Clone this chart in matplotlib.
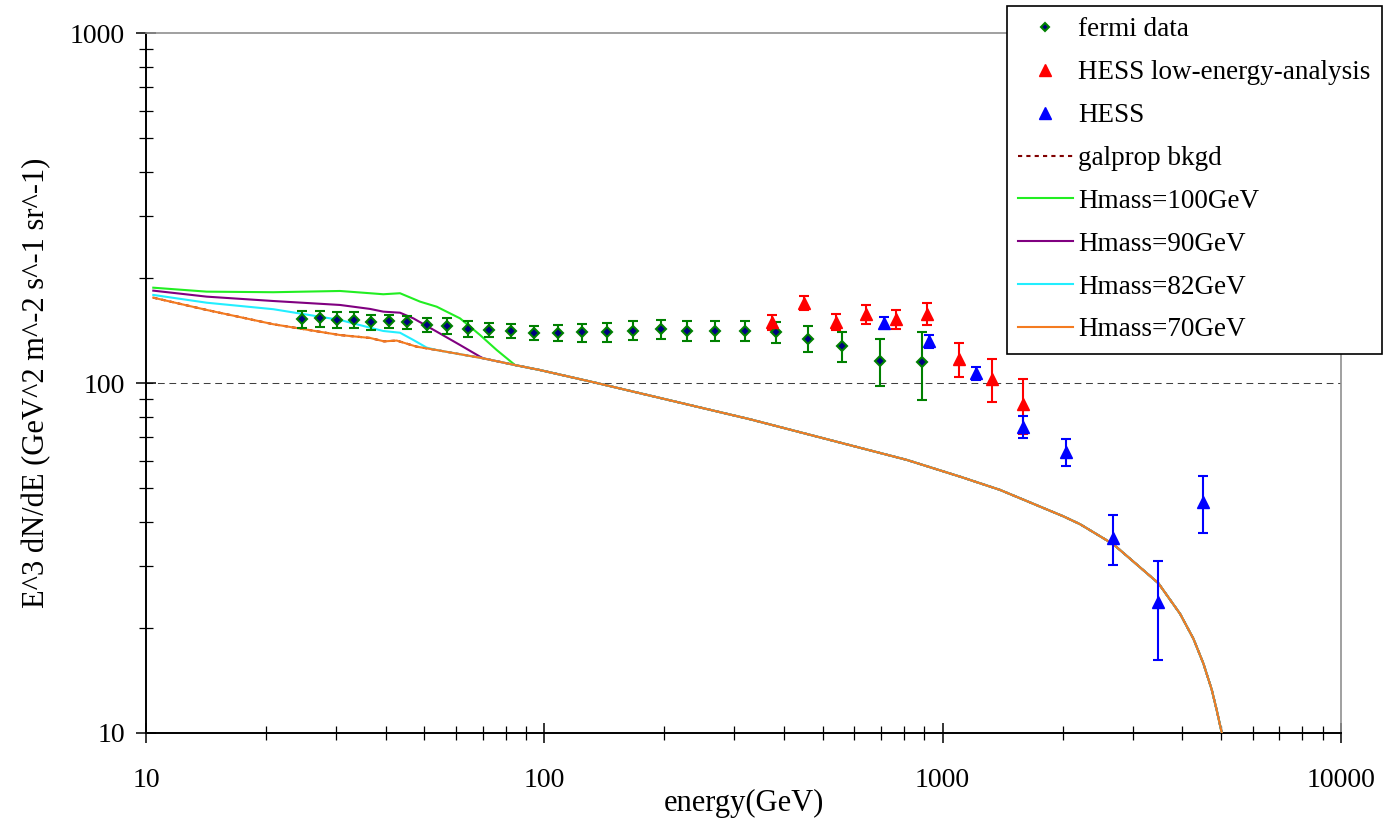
import numpy as np
import matplotlib
matplotlib.use("Agg")
import matplotlib.pyplot as plt
from matplotlib.lines import Line2D
from matplotlib.ticker import LogLocator, NullFormatter, FixedLocator

plt.rcParams['font.family'] = ['Liberation Serif', 'DejaVu Serif']

# fermi 数据点 (GeV, E^3 dN/dE)
fermi_E = [24.7, 27.3, 30.2, 33.3, 36.8, 40.8, 45.3, 50.8, 57.0, 64.5, 72.6, 82.5, 94.4,
           108, 124.3, 143.7, 167.3, 196, 228, 268, 318.6, 381.6, 460, 559, 695, 888]
fermi_V = [152, 153, 151.7, 151.7, 149.4, 150.1, 149.1, 146.5, 145.8, 142.9, 142, 140.8, 139.2,
           139.3, 139.5, 139.5, 141.1, 142.4, 140.8, 140.8, 140.8, 139.5, 133.8, 127.3, 115.8, 114.6]
fermi_err = [8.5, 8.1, 8.0, 8.0, 7.4, 6.4, 6.4, 6.7, 7.4, 7.3, 6.3, 6.5, 6.1,
             7.3, 8.3, 8.5, 8.8, 9.1, 9.1, 9.3, 9.3, 9.6, 11.3, 12.6, 17.7, 25]

# HESS low-energy-analysis
hess_low_E = [372.3, 448.8, 539, 643.5, 763.8, 915.4, 1101, 1328, 1594]
hess_low_V = [149.1, 169.6, 149.7, 157.2, 152, 157.5, 117.1, 102.7, 87.1]
hess_low_err = [7.4, 7.5, 7.9, 9.8, 9.7, 11.4, 12.9, 14.2, 15.5]

# HESS
hess_E = [713.9, 925.9, 1211, 1589, 2045, 2678, 3479, 4513]
hess_V = [148.7, 131.8, 106.6, 75.0, 63.6, 36.1, 23.6, 45.8]
hess_err = [5.4, 5.5, 4.4, 5.4, 5.7, 5.9, 7.4, 8.5]

# galprop 背景 (= Hmass=70GeV)
bkgd_E = [10.43, 14.2, 20.87, 30.69, 36.5, 39.6, 42.6, 47.8, 53.7, 70.3, 84.5, 97.5, 135.4,
          328, 812.6, 1106, 1393, 2009, 2213, 2683, 3479, 3945, 4260, 4513, 4737, 4877, 5020, 5100]
bkgd_V = [175.3, 161.7, 147.2, 137.1, 134.5, 131.5, 132.2, 127.0, 124.2, 117.6, 112.5, 108.9, 100,
          78.8, 60.3, 54.0, 49.5, 41.6, 39.5, 34.6, 26.8, 21.9, 18.6, 15.8, 13.3, 11.6, 10.0, 8.0]

# 模型曲线 (低能部分, 之后与背景重合)
h100_E = [10.43, 14.2, 20.87, 30.69, 36.51, 39.42, 43.42, 48.75, 53.68, 61.43, 68.97, 75.95, 84.45]
h100_V = [187.2, 182.4, 181.7, 183.2, 180.5, 179.3, 180.5, 170.8, 165.2, 153.0, 137.1, 124.2, 112.5]
h90_E = [10.43, 14.2, 20.87, 30.69, 36.51, 39.42, 43.42, 46.9, 53.68, 61.43, 68.97, 70.29]
h90_V = [183.6, 176.5, 171.5, 167.1, 162.8, 159.9, 158.8, 153.0, 140.2, 128.4, 118.9, 117.6]
h82_E = [10.43, 14.2, 20.87, 30.69, 36.51, 39.42, 43.42, 46.9, 50.67]
h82_V = [178.5, 169.6, 162.5, 151.4, 143.9, 140.8, 139.2, 132.7, 126.2]


def with_tail(E, V):
    bE = np.array(bkgd_E)
    bV = np.array(bkgd_V)
    m = bE > E[-1]
    return np.concatenate([E, bE[m]]), np.concatenate([V, bV[m]])


fig = plt.figure(figsize=(13.84, 8.23), dpi=100)
ax = fig.add_axes([146 / 1384, 1 - 733 / 823, 1195 / 1384, 700 / 823])
ax.set_xscale('log')
ax.set_yscale('log')
ax.set_xlim(10, 10000)
ax.set_ylim(10, 1000)

ax.axhline(100, color='#404040', lw=0.75, dashes=(6.5, 4.5), zorder=1)

ax.plot(bkgd_E, bkgd_V, color='#800000', lw=1.5, dashes=(2, 2), zorder=2)
for (E, V), c in [(with_tail(h100_E, h100_V), '#22ee22'),
                  (with_tail(h90_E, h90_V), '#800080'),
                  (with_tail(h82_E, h82_V), '#22eeff')]:
    ax.plot(E, V, color=c, lw=1.5, zorder=3)
ax.plot(bkgd_E, bkgd_V, color='#f47b20', lw=1.5, zorder=4)

ax.errorbar(fermi_E, fermi_V, yerr=fermi_err, fmt='D', ms=5.5, mfc='#000080', mec='#008000',
            mew=1.5, ecolor='#008000', elinewidth=1.5, capsize=3.6, capthick=1.5, zorder=6)
ax.errorbar(hess_low_E, hess_low_V, yerr=hess_low_err, fmt='^', ms=8, color='#ff0000',
            elinewidth=1.5, capsize=3.6, capthick=1.5, zorder=6)
ax.errorbar(hess_E, hess_V, yerr=hess_err, fmt='^', ms=8, color='#0000ff',
            elinewidth=1.5, capsize=3.6, capthick=1.5, zorder=6)

# 坐标轴样式
ax.spines['left'].set_color('black')
ax.spines['bottom'].set_color('black')
ax.spines['left'].set_linewidth(1.4)
ax.spines['bottom'].set_linewidth(1.4)
ax.spines['top'].set_color('#909090')
ax.spines['right'].set_color('#909090')
ax.spines['top'].set_linewidth(1.2)
ax.spines['right'].set_linewidth(1.2)

ax.xaxis.set_major_locator(FixedLocator([10, 100, 1000, 10000]))
ax.yaxis.set_major_locator(FixedLocator([10, 100, 1000]))
ax.xaxis.set_minor_locator(LogLocator(base=10, subs=np.arange(2, 10)))
ax.yaxis.set_minor_locator(LogLocator(base=10, subs=np.arange(2, 10)))
ax.xaxis.set_minor_formatter(NullFormatter())
ax.yaxis.set_minor_formatter(NullFormatter())
ax.set_xticklabels(['10', '100', '1000', '10000'])
ax.set_yticklabels(['10', '100', '1000'])
ax.tick_params(which='major', direction='inout', length=14, width=1.1, labelsize=20)
ax.tick_params(which='minor', direction='inout', length=10.5, width=0.9)
ax.tick_params(axis='x', which='major', pad=18)
ax.tick_params(axis='y', which='major', pad=8)
ax.tick_params(right=False, top=False, which='both')

ax.set_xlabel('energy(GeV)', fontsize=22)
ax.set_ylabel('E^3 dN/dE (GeV^2 m^-2 s^-1 sr^-1)', fontsize=22)
ax.xaxis.set_label_coords(0.5, -0.08)
ax.yaxis.set_label_coords(-0.079, 0.5)

handles = [
    Line2D([], [], ls='none', marker='D', ms=4.5, mfc='#000080', mec='#008000', mew=1.5),
    Line2D([], [], ls='none', marker='^', ms=8, color='#ff0000'),
    Line2D([], [], ls='none', marker='^', ms=8, color='#0000ff'),
    Line2D([], [], color='#800000', lw=1.5, dashes=(2, 2)),
    Line2D([], [], color='#22ee22', lw=1.5),
    Line2D([], [], color='#800080', lw=1.5),
    Line2D([], [], color='#22eeff', lw=1.5),
    Line2D([], [], color='#f47b20', lw=1.5),
]
labels = ['fermi data', 'HESS low-energy-analysis', 'HESS', 'galprop bkgd',
          'Hmass=100GeV', 'Hmass=90GeV', 'Hmass=82GeV', 'Hmass=70GeV']
leg = fig.legend(handles, labels, loc='upper left', bbox_to_anchor=(1007 / 1384, 1 - 6 / 823),
                 bbox_transform=fig.transFigure, borderaxespad=0, fontsize=19.5,
                 handlelength=2.0, handletextpad=0.2, labelspacing=0.66, borderpad=0.42,
                 fancybox=False, framealpha=1, edgecolor='black')
leg.get_frame().set_linewidth(1.2)
leg.set_zorder(10)

fig.savefig('out.png', dpi=100)
